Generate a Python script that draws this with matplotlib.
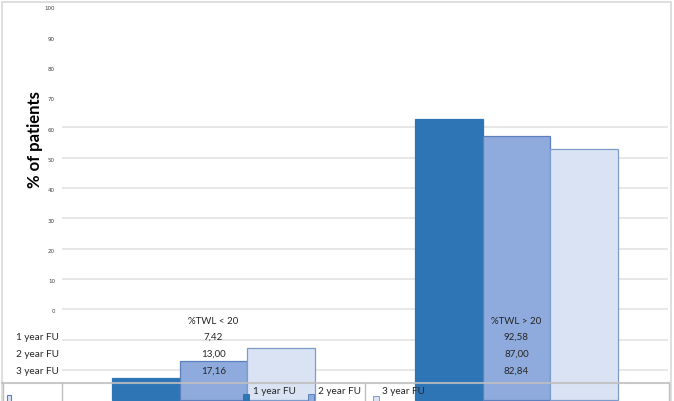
import matplotlib
matplotlib.use("Agg")
import matplotlib.pyplot as plt
from matplotlib.lines import Line2D
from matplotlib.patches import Rectangle
import matplotlib.transforms as mtransforms

plt.rcParams['font.family'] = ['Lato', 'DejaVu Sans']

# ---- data ----
categories = ["%TWL < 20", "%TWL > 20"]
series_names = ["1 year FU", "2 year FU", "3 year FU"]
fu1 = [7.42, 92.58]
fu2 = [13.00, 87.00]
fu3 = [17.16, 82.84]
value_labels = [["7,42", "92,58"], ["13,00", "87,00"], ["17,16", "82,84"]]
y_tick_values = [0, 10, 20, 30, 40, 50, 60, 70, 80, 90, 100]

colors = ["#2E75B6", "#8FAADC", "#DAE3F3"]
edges = ["#2E75B6", "#5B80BD", "#7E9CCB"]

W, H = 674, 401
fig = plt.figure(figsize=(W / 100, H / 100), dpi=100)


def fx(px):
    return px / W


def fy(py):
    return 1 - py / H


# outer chart border
fig.add_artist(Rectangle((fx(2), fy(402)), fx(671) - fx(2), fy(2) - fy(402),
                         transform=fig.transFigure, fill=False,
                         edgecolor="#d9d9d9", lw=1.2))

ax = fig.add_axes([fx(62), fy(400.2), fx(668) - fx(62), fy(97) - fy(400.2)])
ax.set_xlim(-0.5, 1.5)
ax.set_ylim(0, 100)
ax.set_yticks(y_tick_values[1:-1])
ax.set_xticks([])
ax.tick_params(length=0, labelleft=False, labelbottom=False)
ax.yaxis.grid(True, color="#e0e0e0", lw=1.1)
ax.set_axisbelow(True)
for s in ax.spines.values():
    s.set_visible(False)
ax.patch.set_alpha(0)

x = [0, 1]
w = 0.2225
for i, vals in enumerate([fu1, fu2, fu3]):
    ax.bar([xi + (i - 1) * w for xi in x], vals, w, color=colors[i],
           edgecolor=edges[i], lw=0.9, zorder=3, clip_on=False)

# y tick labels (offset as in the reference)
tr = mtransforms.blended_transform_factory(ax.transAxes, ax.transData)
for v in y_tick_values:
    ax.text(-0.0116, v + 29.1, str(v), transform=tr, ha="right", va="center",
            fontsize=4, color="#404040", clip_on=False, family="DejaVu Sans")

fig.text(fx(35), fy(140), "% of patients", rotation=90, fontweight="bold",
         fontsize=12, ha="center", va="center", color="#000000")

# data table text
trx = mtransforms.blended_transform_factory(ax.transData, fig.transFigure)
for j, c in enumerate(categories):
    fig.text(x[j], fy(321), c, transform=trx, ha="center", va="center",
             fontsize=7, color="#262626", zorder=10)
row_y = [337.5, 354.5, 371.5]
for i, name in enumerate(series_names):
    fig.text(fx(59), fy(row_y[i]), name, ha="right", va="center",
             fontsize=7.2, color="#262626")
    for j in range(2):
        fig.text(x[j], fy(row_y[i]), value_labels[i][j], transform=trx,
                 ha="center", va="center", fontsize=7, color="#262626",
                 zorder=10)

# table lines
lc = "#bfbfbf"
fig.add_artist(Line2D([fx(2), fx(669)], [fy(383), fy(383)],
                      transform=fig.transFigure, color=lc, lw=1.5, alpha=0.85,
                      zorder=10))
for px in [3, 62, 365, 669]:
    fig.add_artist(Line2D([fx(px), fx(px)], [fy(383), fy(402)],
                          transform=fig.transFigure, color=lc, lw=1.0,
                          zorder=10))

# legend keys in the table
key_pos = [(243, 393.5), (308, 393.5), (373, 395.5)]
text_x = [253, 318, 382]
for i, name in enumerate(series_names):
    kx, ky = key_pos[i]
    fig.add_artist(Rectangle((fx(kx), fy(ky + 7)), 6 / W, 7 / H,
                             transform=fig.transFigure, facecolor=colors[i],
                             edgecolor=edges[i], lw=0.7, zorder=11))
    fig.text(fx(text_x[i]), fy(392), name, ha="left", va="center",
             fontsize=7.2, color="#262626", zorder=12)
fig.add_artist(Rectangle((fx(7), fy(402)), 4 / W, 7 / H,
                         transform=fig.transFigure, facecolor=colors[2],
                         edgecolor="#5B80BD", lw=0.8, zorder=11))

fig.savefig("out.png", dpi=100)
